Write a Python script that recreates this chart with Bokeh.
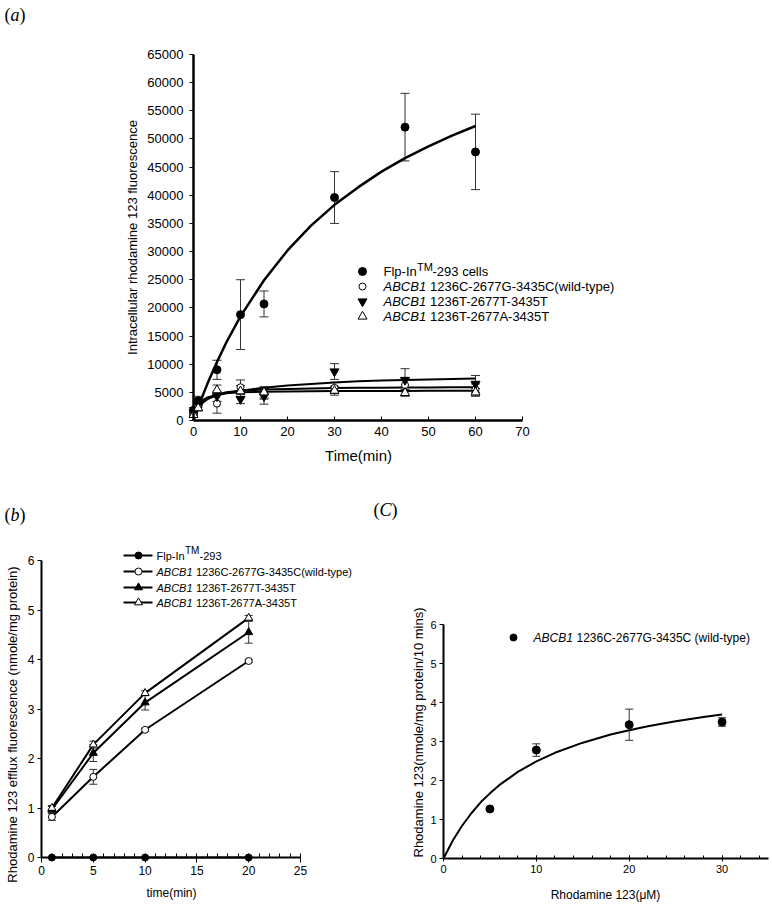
import math
from bokeh.plotting import figure
from bokeh.models import ColumnDataSource, Whisker, TeeHead, Label, FixedTicker, Range1d
from bokeh.layouts import column, row
from bokeh.embed import file_html
from bokeh.resources import INLINE

# ---------------- Panel (a) data ----------------
time_a = [0, 1, 5, 10, 15, 30, 45, 60]
flp_a = [1800, 3500, 9000, 18800, 20700, 39600, 52100, 47700]
flp_a_err = [500, 800, 1700, 6200, 2300, 4600, 6000, 6700]
wt_a = [1200, 2400, 3000, 5900, 4800, 5800, 6300, 5500]
wt_a_err = [300, 500, 1700, 1300, 1000, 1000, 1200, 1000]
ttt_a = [1500, 3000, 4300, 3800, 4300, 8700, 7200, 6500]
ttt_a_err = [400, 600, 900, 800, 1400, 1400, 2000, 1500]
tat_a = [1000, 2200, 5400, 5200, 5000, 5300, 4900, 5000]
tat_a_err = [300, 500, 900, 1000, 1000, 800, 600, 700]

fit_time_a = [0, 1, 2, 3, 5, 7, 10, 15, 20, 25, 30, 35, 40, 45, 50, 55, 60]
flp_fit_a = [0, 2300, 4500, 6600, 10400, 13900, 18500, 24900, 30200, 34600, 38300,
             41400, 44200, 46600, 48700, 50600, 52300]
ttt_fit_a = [1000, 2300, 3200, 3800, 4500, 4900, 5300, 5800, 6200, 6500, 6750,
             6950, 7100, 7200, 7300, 7380, 7450]
wt_fit_a = [800, 2200, 3200, 3900, 4600, 5000, 5300, 5500, 5600, 5700, 5750,
            5800, 5830, 5860, 5880, 5900, 5900]
tat_fit_a = [1500, 2800, 3600, 4100, 4600, 4850, 5000, 5100, 5150, 5200, 5220,
             5240, 5250, 5260, 5270, 5280, 5280]

x_ticks_a = [0, 10, 20, 30, 40, 50, 60, 70]
y_ticks_a = [0, 5000, 10000, 15000, 20000, 25000, 30000, 35000, 40000, 45000,
             50000, 55000, 60000, 65000]

# ---------------- Panel (b) data ----------------
time_b = [1, 5, 10, 20]
flp_b = [0, 0, 0, 0]
wt_b = [0.82, 1.63, 2.58, 3.97]
wt_b_err = [0.07, 0.15, 0.03, 0.03]
ttt_b = [0.97, 2.11, 3.13, 4.55]
ttt_b_err = [0.06, 0.17, 0.15, 0.22]
tat_b = [1.00, 2.28, 3.32, 4.84]
tat_b_err = [0.05, 0.07, 0.05, 0.05]

x_ticks_b = [0, 5, 10, 15, 20, 25]
y_ticks_b = [0, 1, 2, 3, 4, 5, 6]

# ---------------- Panel (c) data ----------------
conc_c = [5, 10, 20, 30]
rate_c = [1.27, 2.78, 3.43, 3.50]
rate_c_err = [0.04, 0.16, 0.40, 0.11]
fit_conc_c = [0, 1, 2, 3, 4, 5, 6, 8, 10, 12, 15, 18, 20, 22, 25, 28, 30]
fit_rate_c = [0, 0.46, 0.84, 1.16, 1.44, 1.67, 1.88, 2.22, 2.49, 2.71, 2.97,
              3.18, 3.29, 3.39, 3.52, 3.63, 3.69]

x_ticks_c = [0, 10, 20, 30]
y_ticks_c = [0, 1, 2, 3, 4, 5, 6]

FONT = "Liberation Sans"
SERIF = "Liberation Serif"
ERR = "#333333"
VERT = math.pi / 2


class Mapper:
    """Maps page pixels to data units for one panel (axis frame geometry)."""

    def __init__(self, left, right, x0, x1, top, bottom, y0, y1):
        self.l, self.r, self.x0, self.x1 = left, right, x0, x1
        self.t, self.b, self.y0, self.y1 = top, bottom, y0, y1

    def x(self, px):
        return self.x0 + (px - self.l) / (self.r - self.l) * (self.x1 - self.x0)

    def y(self, py):
        return self.y0 + (self.b - py) / (self.b - self.t) * (self.y1 - self.y0)


def make_fig(m, ox, oy, w, h):
    p = figure(width=w, height=h,
               x_range=Range1d(m.x(ox), m.x(ox + w)),
               y_range=Range1d(m.y(oy + h), m.y(oy)),
               output_backend="svg", toolbar_location=None,
               min_border=0, min_border_left=0, min_border_right=0,
               min_border_top=0, min_border_bottom=0)
    p.outline_line_color = None
    p.xgrid.visible = False
    p.ygrid.visible = False
    p.background_fill_color = "white"
    p.border_fill_color = "white"
    p.xaxis.fixed_location = 0
    p.yaxis.fixed_location = 0
    return p


def style_axis(ax, ticks, minor, tick_size, lw, tin, tout, bounds,
               min_in=0, min_out=0, std=4):
    ax.ticker = FixedTicker(ticks=ticks, minor_ticks=minor)
    ax.bounds = bounds
    ax.axis_line_color = "black"
    ax.axis_line_width = lw
    ax.major_tick_line_color = "black"
    ax.major_tick_line_width = 1
    ax.major_tick_in = tin
    ax.major_tick_out = tout
    ax.minor_tick_line_color = "black" if (min_in or min_out) else None
    ax.minor_tick_in = min_in
    ax.minor_tick_out = min_out
    ax.major_label_text_font = FONT
    ax.major_label_text_font_size = f"{tick_size}px"
    ax.major_label_text_color = "black"
    ax.major_label_standoff = std
    ax.axis_label = None


def add_label(p, x, y, text, size, style="normal", font=FONT, xo=0, yo=0,
              align="left", angle=0):
    p.add_layout(Label(x=x, y=y, text=text, x_offset=xo, y_offset=yo, angle=angle,
                       text_font=font, text_font_size=f"{size}px",
                       text_font_style=style, text_baseline="middle",
                       text_align=align, text_color="black"))


def add_err(p, xs, ys, es, head):
    src = ColumnDataSource(dict(x=xs, lo=[y - e for y, e in zip(ys, es)],
                                hi=[y + e for y, e in zip(ys, es)]))
    p.add_layout(Whisker(source=src, base="x", lower="lo", upper="hi",
                         line_color=ERR, line_width=1,
                         upper_head=TeeHead(size=head, line_color=ERR, line_width=1),
                         lower_head=TeeHead(size=head, line_color=ERR, line_width=1)))


def panel_letter(p, m, pxl, pyl, letter):
    add_label(p, m.x(pxl), m.y(pyl), "(", 18, font=SERIF)
    add_label(p, m.x(pxl), m.y(pyl), letter, 18, style="italic", font=SERIF, xo=6)
    w = 12 if letter.isupper() else 9
    add_label(p, m.x(pxl), m.y(pyl), ")", 18, font=SERIF, xo=6 + w)


# ================= Panel (a) =================
ma = Mapper(193, 522, 0, 70, 54, 420, 0, 65000)
pa = make_fig(ma, 0, 0, 772, 470)
style_axis(pa.xaxis[0], x_ticks_a, [], 13, 2.5, 4, 0, (0, 70), std=6)
style_axis(pa.yaxis[0], y_ticks_a, [], 13, 2.5, 0, 4, (0, 65000), std=6)

pa.line(fit_time_a, flp_fit_a, line_color="black", line_width=2.5)
pa.line(fit_time_a, ttt_fit_a, line_color="black", line_width=2)
pa.line(fit_time_a, wt_fit_a, line_color="black", line_width=2)
pa.line(fit_time_a, tat_fit_a, line_color="black", line_width=2)

add_err(pa, time_a, flp_a, flp_a_err, 9)
add_err(pa, time_a, wt_a, wt_a_err, 9)
add_err(pa, time_a, ttt_a, ttt_a_err, 9)
add_err(pa, time_a, tat_a, tat_a_err, 9)

pa.scatter(time_a, flp_a, marker="circle", size=8, fill_color="black", line_color="black")
pa.scatter(time_a, wt_a, marker="circle", size=7, fill_color="white", line_color="black")
pa.scatter(time_a, ttt_a, marker="inverted_triangle", size=9, fill_color="black", line_color="black")
pa.scatter(time_a, tat_a, marker="triangle", size=9, fill_color="white", line_color="black")

add_label(pa, ma.x(132), ma.y(237), "Intracellular rhodamine 123 fluorescence", 13,
          align="center", angle=VERT)
add_label(pa, ma.x(358), ma.y(455), "Time(min)", 15, align="center")

rows_a = [271, 286, 301, 316]
mk_x = ma.x(362)
tx_x = ma.x(383)
leg_y = [ma.y(r) for r in rows_a]
pa.scatter([mk_x], [leg_y[0]], marker="circle", size=8, fill_color="black", line_color="black")
pa.scatter([mk_x], [leg_y[1]], marker="circle", size=7, fill_color="white", line_color="black")
pa.scatter([mk_x], [leg_y[2]], marker="inverted_triangle", size=9, fill_color="black", line_color="black")
pa.scatter([mk_x], [leg_y[3]], marker="triangle", size=9, fill_color="white", line_color="black")
add_label(pa, tx_x, leg_y[0], "Flp-In", 13)
add_label(pa, tx_x, leg_y[0], "TM", 11, xo=33.5, yo=5)
add_label(pa, tx_x, leg_y[0], "-293 cells", 13, xo=49)
for yy, txt in zip(leg_y[1:], ["1236C-2677G-3435C(wild-type)", "1236T-2677T-3435T",
                               "1236T-2677A-3435T"]):
    add_label(pa, tx_x, yy, "ABCB1", 13, style="italic")
    add_label(pa, tx_x, yy, txt, 13, xo=46.5)

panel_letter(pa, ma, 4, 14, "a")

# ================= Panel (b) =================
mb = Mapper(41, 300, 0, 25, 560, 857, 0, 6)
pb = make_fig(mb, 0, 470, 368, 432)
style_axis(pb.xaxis[0], x_ticks_b, list(range(0, 26)), 12, 2, 0, 5, (0, 25),
           min_in=4, min_out=0, std=3)
style_axis(pb.yaxis[0], y_ticks_b, [], 12, 2, 0, 4, (0, 6), std=3)

pb.line(time_b, flp_b, line_color="black", line_width=2)
pb.line(time_b, wt_b, line_color="black", line_width=2)
pb.line(time_b, ttt_b, line_color="black", line_width=2)
pb.line(time_b, tat_b, line_color="black", line_width=2)
add_err(pb, time_b, wt_b, wt_b_err, 8)
add_err(pb, time_b, ttt_b, ttt_b_err, 8)
add_err(pb, time_b, tat_b, tat_b_err, 8)
pb.scatter(time_b, flp_b, marker="circle", size=7, fill_color="black", line_color="black")
pb.scatter(time_b, wt_b, marker="circle", size=7, fill_color="white", line_color="black")
pb.scatter(time_b, ttt_b, marker="triangle", size=8, fill_color="black", line_color="black")
pb.scatter(time_b, tat_b, marker="triangle", size=8, fill_color="white", line_color="black")

add_label(pb, mb.x(12), mb.y(724), "Rhodamine 123 efflux fluorescence (nmole/mg protein)", 13,
          align="center", angle=VERT)
add_label(pb, mb.x(171), mb.y(892), "time(min)", 12, align="center")

rows_b = [555, 571, 587, 602]
lb_y = [mb.y(r) for r in rows_b]
lx0, lx1, lmk, ltx = mb.x(123), mb.x(152), mb.x(138), mb.x(156)
for yy in lb_y:
    pb.segment([lx0], [yy], [lx1], [yy], line_color="black", line_width=2)
pb.scatter([lmk], [lb_y[0]], marker="circle", size=7, fill_color="black", line_color="black")
pb.scatter([lmk], [lb_y[1]], marker="circle", size=7, fill_color="white", line_color="black")
pb.scatter([lmk], [lb_y[2]], marker="triangle", size=8, fill_color="black", line_color="black")
pb.scatter([lmk], [lb_y[3]], marker="triangle", size=8, fill_color="white", line_color="black")
add_label(pb, ltx, lb_y[0], "Flp-In", 11)
add_label(pb, ltx, lb_y[0], "TM", 10, xo=28.5, yo=5)
add_label(pb, ltx, lb_y[0], "-293", 11, xo=43)
for yy, txt in zip(lb_y[1:], ["1236C-2677G-3435C(wild-type)", "1236T-2677T-3435T",
                              "1236T-2677A-3435T"]):
    add_label(pb, ltx, yy, "ABCB1", 11, style="italic")
    add_label(pb, ltx, yy, txt, 11, xo=39.5)

panel_letter(pb, mb, 4, 514, "b")

# ================= Panel (c) =================
mc = Mapper(443, 768, 0, 35, 624, 858, 0, 6)
pc = make_fig(mc, 368, 470, 404, 432)
style_axis(pc.xaxis[0], x_ticks_c, list(range(0, 36, 2)), 11, 2, 3, 3, (0, 35),
           min_in=3, min_out=0, std=3)
style_axis(pc.yaxis[0], y_ticks_c, [], 11, 2, 0, 4, (0, 6), std=3)

pc.line(fit_conc_c, fit_rate_c, line_color="black", line_width=2)
add_err(pc, conc_c, rate_c, rate_c_err, 8)
pc.scatter(conc_c, rate_c, marker="circle", size=8, fill_color="black", line_color="black")

add_label(pc, mc.x(418), mc.y(732), "Rhodamine 123(nmole/mg protein/10 mins)", 13,
          align="center", angle=VERT)
add_label(pc, mc.x(605), mc.y(894), "Rhodamine 123(\u03bcM)", 12, align="center")

lc_y = mc.y(637)
pc.scatter([mc.x(513)], [lc_y], marker="circle", size=7, fill_color="black", line_color="black")
add_label(pc, mc.x(533), lc_y, "ABCB1", 12, style="italic")
add_label(pc, mc.x(533), lc_y, "1236C-2677G-3435C (wild-type)", 12, xo=43)

panel_letter(pc, mc, 373, 509, "C")

layout = column(pa, row(pb, pc))
open("out.html", "w").write(file_html(layout, INLINE))
